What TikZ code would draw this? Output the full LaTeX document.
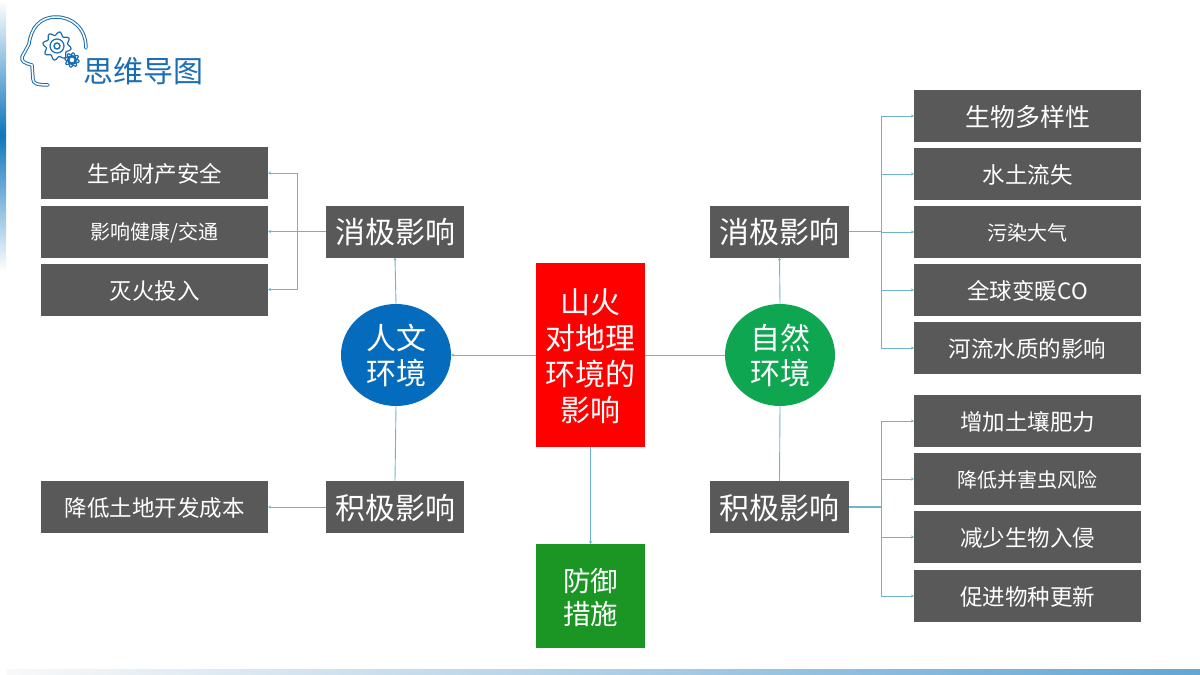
\documentclass[tikz,border=0pt]{standalone}
\usepackage{fontspec}
\setmainfont{Noto Sans CJK SC}
\usetikzlibrary{arrows.meta,shapes.geometric}
\definecolor{boxgray}{HTML}{595959}
\definecolor{linkc}{HTML}{6FB3CC}
\definecolor{titleb}{HTML}{1B6DB3}
\definecolor{barb}{HTML}{0F75BD}
\definecolor{defgreen}{HTML}{1B9625}
\definecolor{humblue}{HTML}{056CBD}
\definecolor{natgreen}{HTML}{0EA651}
\newcommand{\fs}[1]{\fontsize{#1pt}{#1pt}\selectfont}
\newcommand{\fsb}[2]{\fontsize{#1pt}{#2pt}\selectfont}
\newcommand{\lowertext}{\rule[-0.12em]{0pt}{\dimexpr1em+2pt\relax}}
\newcommand{\mline}[4]{\makebox[0pt][c]{\raisebox{#1}[0pt][0pt]{\parbox[c]{100pt}{\centering\fsb{#2}{#3}#4}}}}
\tikzset{
  lowered/.style={execute at begin node={\lowertext}},
  box/.style={fill=boxgray,text=white,inner sep=0pt,outer sep=0pt,align=center,lowered},
  wide/.style={box,minimum width=227pt,minimum height=52pt},
  mid/.style={box,minimum width=138.5pt,minimum height=52pt,font=\fs{30}},
  big/.style={inner sep=0pt,outer sep=0pt,text=white,minimum width=109pt},
  roundnode/.style={shape=ellipse,inner sep=0pt,outer sep=0pt,text=white,minimum width=110pt,minimum height=102pt},
  link/.style={draw=linkc,line width=0.9pt},
  linka/.style={link,-{Stealth[length=3pt,width=3pt]}},
  iconl/.style={draw=titleb,line width=1pt,double=white,double distance=1.5pt,line cap=round,line join=round},
  gearl/.style={draw=titleb,line width=1.2pt,line join=round}
}
\begin{document}
\begin{tikzpicture}[x=1pt,y=-1pt]
\useasboundingbox (0,0) rectangle (1200,675);
% background bars
\shade[top color=white,bottom color=barb] (0,0) rectangle (6,135);
\shade[top color=barb,bottom color=white] (0,135) rectangle (6,272);
\shade[left color=white!95!gray,right color=barb!65!white] (6,669) rectangle (1200,675);
% icon
\draw[iconl] (86,48) .. controls (86,28) and (72,17) .. (56,17) .. controls (40,17) and (31,28) .. (29,44) -- (22,57) .. controls (21,61) and (24,63) .. (32,65) -- (33,79) .. controls (33,83) and (36,85) .. (48,85);
\draw[gearl] plot[smooth cycle,samples=64,domain=0:354.375,variable=\t] ({57+(12.5+1.8*sin(8*\t))*cos(\t)},{46+(12.5+1.8*sin(8*\t))*sin(\t)});
\draw[gearl] (57,46) circle (7pt);
\draw[gearl,line width=1.4pt] (57,46) circle (3pt);
\draw[titleb,line width=2.6pt] (72,60) circle (3.8pt);
\draw[gearl] plot[smooth cycle,samples=64,domain=0:354.375,variable=\t] ({72+(6.3+1*sin(8*\t))*cos(\t)},{60+(6.3+1*sin(8*\t))*sin(\t)});
\node[inner sep=0pt,text=titleb,font=\fs{30}] (title) at (143.5,71) {思维导图};
% centre
\node[big,fill=red,minimum height=184pt] (core) at (590.5,355) {\mline{-3.5pt}{30}{36}{山火\\对地理\\环境的\\影响}};
\node[big,fill=defgreen,minimum height=104pt] (def) at (590.5,596) {\mline{-4pt}{27.5}{33}{防御\\措施}};
\node[roundnode,fill=humblue] (hum) at (396,355) {\mline{-3.5pt}{30}{35}{人文\\环境}};
\node[roundnode,fill=natgreen] (nat) at (780,355) {\mline{-3.5pt}{30}{35}{自然\\环境}};
% mid
\node[mid] (hneg) at (395,231.5) {消极影响};
\node[mid] (hpos) at (395,507) {积极影响};
\node[mid] (nneg) at (779.5,231.5) {消极影响};
\node[mid] (npos) at (779.5,507) {积极影响};
% left list
\node[wide,font=\fs{22.5}] (l1) at (154.5,173) {生命财产安全};
\node[wide,font=\fs{20}] (l2) at (154.5,231.5) {影响健康/交通};
\node[wide,font=\fs{22.5}] (l3) at (154.5,289.5) {灭火投入};
\node[wide,font=\fs{22.5}] (l4) at (154.5,507) {降低土地开发成本};
% right list
\node[wide,font=\fs{25}] (r1) at (1027.5,116) {生物多样性};
\node[wide,font=\fs{22.5}] (r2) at (1027.5,174) {水土流失};
\node[wide,font=\fs{20}] (r3) at (1027.5,232) {污染大气};
\node[wide,font=\fs{22.5}] (r4) at (1027.5,290) {全球变暖CO};
\node[wide,font=\fs{22.5}] (r5) at (1027.5,348) {河流水质的影响};
\node[wide,font=\fs{22.5}] (r6) at (1027.5,421) {增加土壤肥力};
\node[wide,font=\fs{20}] (r7) at (1027.5,479) {降低并害虫风险};
\node[wide,font=\fs{22.5}] (r8) at (1027.5,537) {减少生物入侵};
\node[wide,font=\fs{22.5}] (r9) at (1027.5,596) {促进物种更新};
% connectors
\coordinate (busL) at (297,231.5);
\coordinate (busA) at (881,231.5);
\coordinate (busB) at (881,507);
\draw[linka] (core.west) -- (hum.east);
\draw[link] (core.east) -- (nat.west);
\draw[linka] (core.south) -- (def.north);
\draw[linka] (hum.north) -- (hneg.south);
\draw[link] (hum.south) -- (hpos.north);
\draw[linka] (nat.north) -- (nneg.south);
\draw[link] (nat.south) -- (npos.north);
\draw[linka] (hpos.west) -- (l4.east);
\draw[linka] (hneg.west) -- (l2.east);
\draw[linka] (busL) |- (l1.east);
\draw[linka] (busL) |- (l3.east);
\draw[link] (nneg.east) -- (busA);
\draw[linka] (busA) |- (r1.west);
\draw[linka] (busA) |- (r2.west);
\draw[linka] (busA) |- (r3.west);
\draw[linka] (busA) |- (r4.west);
\draw[linka] (busA) |- (r5.west);
\draw[link,line width=1.3pt] (npos.east) -- (busB);
\draw[linka] (busB) |- (r6.west);
\draw[linka] (busB) |- (r7.west);
\draw[linka] (busB) |- (r8.west);
\draw[linka] (busB) |- (r9.west);
\end{tikzpicture}
\end{document}
